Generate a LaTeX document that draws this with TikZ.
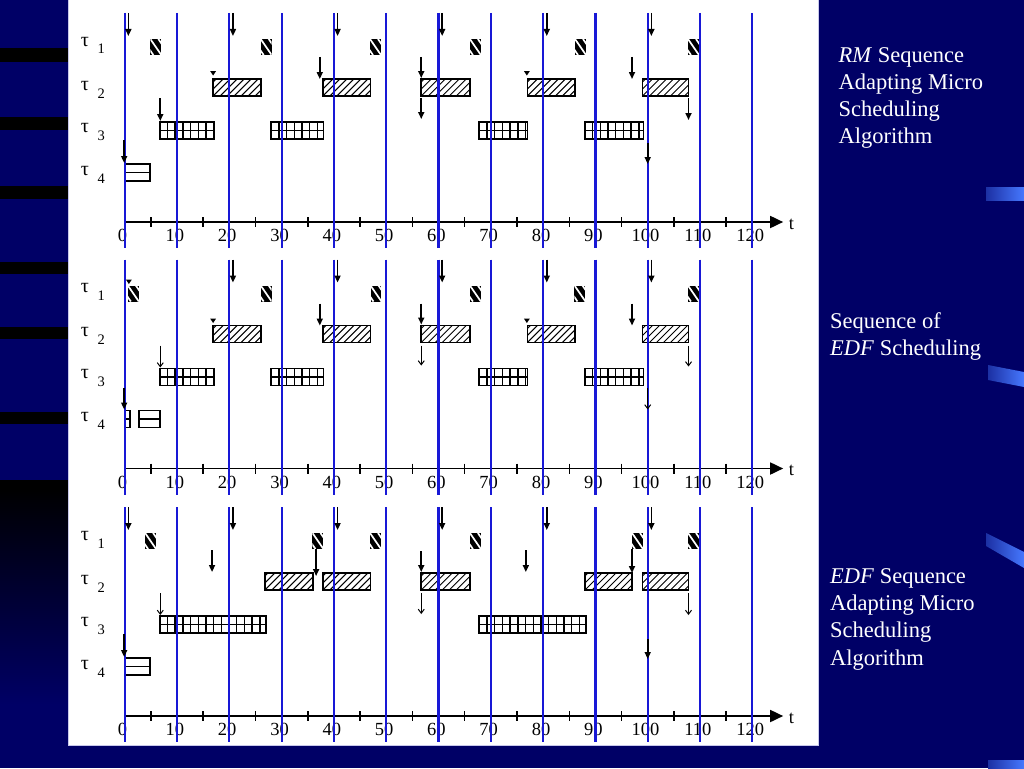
\documentclass[tikz,border=0pt]{standalone}
\usepackage{fontspec}
\setmainfont{Liberation Serif}
\usepackage{tikz}
\usetikzlibrary{arrows.meta}

\definecolor{slidebg}{RGB}{0,0,102}
\definecolor{lineblue}{RGB}{24,24,214}
\definecolor{barblue}{RGB}{70,120,255}
\definecolor{paneledge}{RGB}{200,200,235}

\newcommand{\tasksubfont}{\fontsize{14.5}{14.5}\selectfont}

% one job of each task (times in time units, rows in pixels)
\newcommand{\taskA}[1]{%
  \fill[black] (#1,39) rectangle ++(2.1,16);
  \begin{scope}
    \clip (#1,39) rectangle ++(2.1,16);
    \foreach \k in {-1,0,1}
      \draw[white,line width=1.7pt] (#1,39) ++(\k*8pt,0) -- ++(11pt,-16pt);
  \end{scope}
}
\newcommand{\taskB}[2]{%
  \fill[white] (#1,79) rectangle (#2,96);
  \begin{scope}
    \clip (#1,79) rectangle (#2,96);
    \foreach \k in {0,...,10}
      \draw[line width=1pt] (#1,96) ++(\k*7pt-14pt,0) -- ++(17pt,17pt);
  \end{scope}
  \draw[jobline] (#1,79) rectangle (#2,96);
}
\newcommand{\taskC}[2]{%
  \fill[white] (#1,122) rectangle (#2,139);
  \begin{scope}
    \clip (#1,122) rectangle (#2,139);
    \foreach \k in {1,...,14}
      \draw[line width=1.4pt] (#1,122) ++(\k*7.7pt,0) -- ++(0,-17pt);
  \end{scope}
  \draw[line width=1.4pt] (#1,130.5) -- (#2,130.5);
  \draw[jobline] (#1,122) rectangle (#2,139);
}
\newcommand{\taskD}[2]{%
  \fill[white] (#1,164) rectangle (#2,181);
  \draw[line width=1.4pt] (#1,172.5) -- (#2,172.5);
  \draw[jobline] (#1,164) rectangle (#2,181);
}
\newcommand{\release}[3]{\draw[relfill] (#1,#2) -- (#1,#3);}
\newcommand{\releaseo}[3]{\draw[relopen] (#1,#2) -- (#1,#3);}
\newcommand{\relmark}[2]{\fill (#1,#2) ++(-3pt,0) -- ++(6pt,0) -- ++(-3pt,-4.5pt) -- cycle;}

% axis, numbers and the blue lines every 10
\newcommand{\timeaxis}[1]{%
  \draw[line width=1.8pt,-{Triangle[length=13pt,width=12pt]}] (0,222) -- (125.9,222);
  \foreach \v in {0,5,...,115}
    \draw[line width=1.5pt] (\v,217) -- (\v,227);
  \foreach \v in {0,10,...,120}
    \node[numlab] (n#1-\v) at (\v-0.4,235.5) {\v};
  \node[numlab] (t#1) at (127.5,224) {t};
  \foreach \v in {0,10,...,120}
    \draw[blueline] (\v,13) -- (\v,248);
}
\newcommand{\tasklabels}[1]{%
  \foreach \r/\y in {1/46,2/90,3/132,4/175}
    \node[tasklab] (lab#1-\r) at (-8.4,\y) {τ\hspace{8.5pt}\raisebox{-8pt}{\tasksubfont\r}};
}

\begin{document}
\begin{tikzpicture}[
    x=1pt,y=-1pt,
    jobline/.style={draw=black,line width=1.8pt},
    relfill/.style={-{Triangle[length=7pt,width=6pt]},line width=1.6pt},
    relopen/.style={-{Straight Barb[length=4pt,width=6pt]},line width=1pt},
    blueline/.style={lineblue,line width=2.2pt},
    numlab/.style={inner sep=0pt,font=\fontsize{18.5}{18.5}\selectfont},
    tasklab/.style={inner sep=0pt,anchor=base west,font=\fontsize{20}{20}\selectfont},
    sidetext/.style={text=white,align=left,inner sep=0pt,anchor=north west,font=\fontsize{22.5}{27.3}\selectfont}
  ]
  \useasboundingbox (0,0) rectangle (1024,768);

  % slide background
  \fill[slidebg] (0,0) rectangle (1024,768);
  \shade[top color=black,bottom color=slidebg] (0,488) rectangle (68,705);
  \foreach \y/\h in {48/14,117/13,186/13,262/12,327/12,412/12,480/9}
    \fill[black] (0,\y) rectangle ++(68,\h);
  \shade[left color=barblue!40!slidebg,right color=barblue] (986,187) rectangle (1024,200);
  \shade[left color=barblue!40!slidebg,right color=barblue] (988,365) -- (1024,372) -- (1024,387) -- (988,380) -- cycle;
  \shade[left color=barblue!40!slidebg,right color=barblue] (986,533) -- (1024,552) -- (1024,568) -- (986,546) -- cycle;
  \shade[left color=barblue!40!slidebg,right color=barblue] (988,760) rectangle (1024,768);
  \fill[white] (68,0) rectangle (818,745);
  \draw[paneledge,line width=1pt] (68,0) -- (68,745) -- (818,745) -- (818,0);

  % RM sequence adapting
  \begin{scope}[shift={(124.7,0)},x=5.23pt]
    \foreach \a in {4.9,26,46.9,66,86.1,107.7} {\taskA{\a}}
    \taskB{16.9}{26.1} \taskB{37.9}{47} \taskB{56.7}{66} \taskB{77}{86.1} \taskB{99}{107.8}
    \taskC{6.7}{17.1} \taskC{28}{38} \taskC{67.8}{77} \taskC{88}{99.2}
    \taskD{0.1}{4.8}
    \tasklabels{1}
    \timeaxis{1}
    \foreach \a in {0.7,20.7,40.7,60.7,80.7,100.7} {\release{\a}{13}{36}}
    \relmark{16.9}{71} \release{37.3}{57}{79} \release{56.7}{57}{78} \release{56.7}{98}{119}
    \relmark{76.9}{71} \release{97}{57}{79} \release{107.8}{98}{120}
    \release{6.8}{98}{121} \release{100}{143}{164}
    \release{-0.1}{140}{163}
  \end{scope}

  % EDF
  \begin{scope}[shift={(124.7,246.5)},x=5.23pt]
    \foreach \a in {0.6,26,47,66,86,107.7} {\taskA{\a}}
    \taskB{16.9}{26.1} \taskB{37.9}{47} \taskB{56.7}{66} \taskB{77}{86.1} \taskB{99}{107.8}
    \taskC{6.7}{17.1} \taskC{28}{38} \taskC{67.8}{77} \taskC{88}{99.2}
    \taskD{0}{1} \taskD{2.7}{6.8}
    \tasklabels{2}
    \timeaxis{2}
    \foreach \a in {20.7,40.7,60.7,80.7,100.7} {\release{\a}{13}{36}}
    \relmark{0.8}{33}
    \relmark{16.9}{72} \release{37.3}{57}{79} \release{56.7}{57}{78} \releaseo{56.7}{99}{119}
    \relmark{76.9}{72} \release{97}{57}{79} \releaseo{107.8}{99}{120}
    \releaseo{6.8}{99}{121} \releaseo{100}{141}{163}
    \release{-0.1}{141}{163}
  \end{scope}

  % EDF sequence adapting
  \begin{scope}[shift={(124.7,494)},x=5.23pt]
    \foreach \a in {3.9,35.9,46.9,66,97,107.7} {\taskA{\a}}
    \taskB{26.8}{36} \taskB{37.9}{47} \taskB{56.7}{66} \taskB{88}{97} \taskB{99}{107.8}
    \taskC{6.7}{27} \taskC{67.8}{88.2}
    \taskD{0.1}{4.8}
    \tasklabels{3}
    \timeaxis{3}
    \foreach \a in {0.7,20.7,40.7,60.7,80.7,100.7} {\release{\a}{13}{36}}
    \release{16.7}{56}{78} \release{36.6}{55}{82} \release{56.7}{57}{78} \releaseo{56.7}{99}{120}
    \release{76.7}{56}{78} \release{97}{55}{79} \releaseo{107.8}{99}{121}
    \releaseo{6.8}{99}{121} \release{100}{145}{165}
    \release{-0.1}{140}{163}
  \end{scope}

  \node[sidetext] (rmtext) at (838.5,47) {\textit{RM} Sequence\\Adapting Micro\\Scheduling\\Algorithm};
  \node[sidetext] (edftext) at (830,312) {Sequence of\\\textit{EDF} Scheduling};
  \node[sidetext] (edfadapt) at (830,568) {\textit{EDF} Sequence\\Adapting Micro\\Scheduling\\Algorithm};
\end{tikzpicture}
\end{document}
